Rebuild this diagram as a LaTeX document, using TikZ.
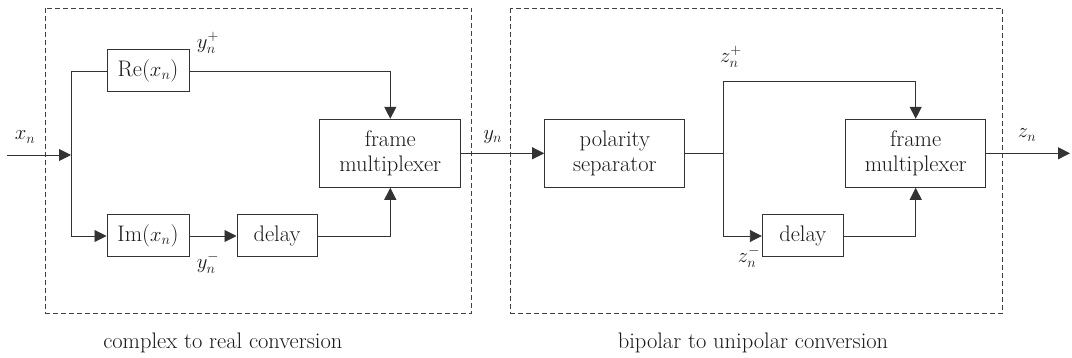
\documentclass[tikz,border=0pt]{standalone}
\usetikzlibrary{arrows.meta}
\begin{document}
\begin{tikzpicture}[x=1pt,y=-1pt,
  line width=0.9pt, draw=black!80,
  every node/.style={font=\fontsize{22.5}{25}\selectfont, text=black!90},
  blk/.style={draw=black!80, line width=1pt, inner sep=0pt, align=center},
  grp/.style={draw=black!75, line width=0.9pt, dash pattern=on 5pt off 3pt},
  sig/.style={draw=black!80, line width=0.9pt},
  arr/.style={sig, -{Triangle[length=12pt,width=12pt]}},
  lbl/.style={inner sep=0pt}]
\useasboundingbox (0,0) rectangle (1072,358);
% groups
\draw[grp] (45.7,8.3) rectangle (471.7,313.3);
\draw[grp] (510.7,8.3) rectangle (1002.7,313.3);
% blocks
\node[blk, minimum width=82pt, minimum height=42pt] (re) at (148,71) {Re($x_n$)};
\node[blk, minimum width=82pt, minimum height=42pt] (im) at (148,236) {Im($x_n$)};
\node[blk, minimum width=80pt, minimum height=42pt] (d1) at (277,236) {delay};
\node[blk, minimum width=140.7pt, minimum height=68pt] (m1) at (390.3,153.3) {frame\\multiplexer};
\node[blk, minimum width=140.3pt, minimum height=68pt] (ps) at (614.8,153.3) {polarity\\separator};
\node[blk, minimum width=81pt, minimum height=42pt] (d2) at (802.8,236) {delay};
\node[blk, minimum width=140pt, minimum height=68pt] (m2) at (915.7,153.3) {frame\\multiplexer};
% coordinates
\coordinate (in) at (7,155);
\coordinate (j1) at (71,155);
\coordinate (j1t) at (71,71);
\coordinate (j1b) at (71,236);
\coordinate (j2) at (723.3,153.3);
\coordinate (j2t) at (723.3,81);
\coordinate (j2b) at (723.3,236);
\coordinate (out) at (1070,153.3);
% left connectors
\draw[arr] (in) -- (j1);
\draw[sig] (j1t) -- (j1b);
\draw[sig] (j1t) -- (re.west);
\draw[arr] (j1b) -- (im.west);
\draw[arr] (re.east) -| (m1.north);
\draw[arr] (im.east) -- (d1.west);
\draw[arr] (d1.east) -| (m1.south);
\draw[arr] (m1.east) -- (ps.west);
% right connectors
\draw[sig] (ps.east) -- (j2);
\draw[sig] (j2t) -- (j2b);
\draw[arr] (j2t) -| (m2.north);
\draw[arr] (j2b) -- (d2.west);
\draw[arr] (d2.east) -| (m2.south);
\draw[arr] (m2.east) -- (out);
% labels
\node[lbl] (lx) at (25,137) {$x_n$};
\node[lbl] (lyp) at (208,43) {$y_n^+$};
\node[lbl] (lym) at (208,263) {$y_n^-$};
\node[lbl] (ly) at (492.7,137) {$y_n$};
\node[lbl] (lzp) at (731,57) {$z_n^+$};
\node[lbl] (lzm) at (749,257) {$z_n^-$};
\node[lbl] (lz) at (1027,135) {$z_n$};
\node[lbl] (c1) at (222.8,343) {complex to real conversion};
\node[lbl] (c2) at (753,343) {bipolar to unipolar conversion};
\end{tikzpicture}
\end{document}
